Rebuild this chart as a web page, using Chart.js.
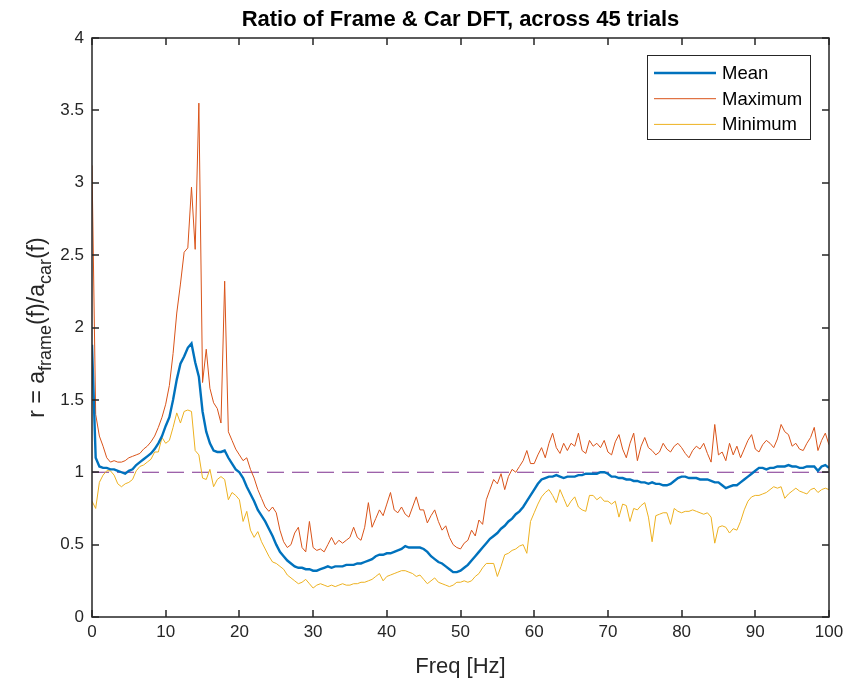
<!DOCTYPE html>
<html>
<head>
<meta charset="utf-8">
<script src="https://cdn.jsdelivr.net/npm/chart.js@4.4.0/dist/chart.umd.min.js"></script>
<style>
  html, body { margin: 0; padding: 0; background: #fff; }
  #wrap { width: 851px; height: 687px; }
</style>
</head>
<body>
<div id="wrap"><canvas id="chart" width="851" height="687"></canvas></div>
<script>
// frequency grid, 0.5 Hz steps from 0 to 100 Hz
const freqHz = Array.from({ length: 201 }, (_, i) => i * 0.5);

const meanRatio = [
  1.88, 1.10, 1.04, 1.03, 1.03, 1.02, 1.02, 1.01, 1.00, 0.99,
  1.01, 1.02, 1.05, 1.07, 1.09, 1.11, 1.13, 1.16, 1.20, 1.25,
  1.32, 1.38, 1.50, 1.64, 1.75, 1.80, 1.86, 1.89, 1.76, 1.66,
  1.42, 1.28, 1.20, 1.15, 1.14, 1.14, 1.15, 1.10, 1.06, 1.02,
  1.00, 0.96, 0.90, 0.85, 0.80, 0.74, 0.70, 0.66, 0.61, 0.56,
  0.50, 0.45, 0.42, 0.39, 0.37, 0.35, 0.34, 0.34, 0.33, 0.33,
  0.32, 0.32, 0.33, 0.34, 0.35, 0.34, 0.35, 0.35, 0.35, 0.36,
  0.36, 0.36, 0.37, 0.37, 0.38, 0.39, 0.40, 0.42, 0.43, 0.43,
  0.44, 0.44, 0.45, 0.46, 0.47, 0.49, 0.48, 0.48, 0.48, 0.48,
  0.47, 0.45, 0.42, 0.40, 0.38, 0.37, 0.35, 0.33, 0.31, 0.31,
  0.32, 0.34, 0.36, 0.39, 0.42, 0.45, 0.48, 0.51, 0.54, 0.56,
  0.58, 0.61, 0.63, 0.66, 0.68, 0.71, 0.73, 0.76, 0.80, 0.84,
  0.88, 0.92, 0.95, 0.96, 0.97, 0.97, 0.98, 0.97, 0.96, 0.97,
  0.97, 0.97, 0.98, 0.98, 0.99, 0.99, 0.99, 0.99, 1.00, 1.00,
  0.99, 0.97, 0.97, 0.96, 0.96, 0.95, 0.95, 0.94, 0.94, 0.93,
  0.93, 0.92, 0.93, 0.92, 0.92, 0.91, 0.91, 0.92, 0.94, 0.96,
  0.97, 0.97, 0.96, 0.96, 0.96, 0.95, 0.95, 0.95, 0.94, 0.93,
  0.93, 0.91, 0.89, 0.90, 0.91, 0.91, 0.93, 0.95, 0.97, 0.99,
  1.01, 1.03, 1.03, 1.02, 1.03, 1.03, 1.04, 1.04, 1.04, 1.05,
  1.04, 1.04, 1.03, 1.03, 1.04, 1.04, 1.04, 1.01, 1.04, 1.05,
  1.03
];

const maxRatio = [
  3.12, 1.40, 1.25, 1.18, 1.10, 1.07, 1.08, 1.07, 1.07, 1.08,
  1.10, 1.11, 1.12, 1.13, 1.16, 1.18, 1.21, 1.25, 1.31, 1.38,
  1.47, 1.60, 1.82, 2.10, 2.30, 2.52, 2.55, 2.97, 2.54, 3.55,
  1.62, 1.85, 1.58, 1.48, 1.44, 1.34, 2.32, 1.28, 1.22, 1.16,
  1.12, 1.08, 1.10, 1.02, 0.96, 0.88, 0.82, 0.76, 0.73, 0.76,
  0.72, 0.60, 0.52, 0.48, 0.50, 0.58, 0.62, 0.48, 0.45, 0.66,
  0.48, 0.46, 0.47, 0.45, 0.50, 0.55, 0.50, 0.53, 0.51, 0.53,
  0.55, 0.62, 0.55, 0.53, 0.62, 0.79, 0.62, 0.68, 0.74, 0.70,
  0.78, 0.86, 0.74, 0.72, 0.76, 0.71, 0.69, 0.76, 0.83, 0.74,
  0.74, 0.65, 0.70, 0.74, 0.66, 0.60, 0.63, 0.55, 0.50, 0.48,
  0.47, 0.51, 0.53, 0.60, 0.56, 0.67, 0.64, 0.81, 0.88, 0.95,
  0.92, 0.99, 0.88, 0.97, 1.02, 1.00, 1.04, 1.08, 1.15, 1.06,
  1.06, 1.12, 1.17, 1.10, 1.20, 1.27, 1.17, 1.13, 1.20, 1.15,
  1.20, 1.18, 1.27, 1.15, 1.13, 1.22, 1.18, 1.20, 1.17, 1.22,
  1.14, 1.12, 1.21, 1.26, 1.16, 1.10, 1.20, 1.27, 1.08, 1.18,
  1.24, 1.17, 1.15, 1.12, 1.14, 1.20, 1.16, 1.14, 1.18, 1.20,
  1.17, 1.13, 1.10, 1.15, 1.18, 1.16, 1.20, 1.13, 1.07, 1.33,
  1.12, 1.14, 1.08, 1.20, 1.12, 1.18, 1.10, 1.16, 1.22, 1.26,
  1.16, 1.14, 1.19, 1.22, 1.20, 1.17, 1.23, 1.33, 1.28, 1.26,
  1.18, 1.20, 1.16, 1.15, 1.20, 1.24, 1.31, 1.15, 1.22, 1.27,
  1.19
];

const minRatio = [
  0.80, 0.75, 0.93, 0.98, 1.01, 1.01, 0.98, 0.92, 0.90, 0.92,
  0.93, 0.95, 1.01, 1.04, 1.05, 1.07, 1.09, 1.14, 1.14, 1.24,
  1.20, 1.22, 1.31, 1.41, 1.34, 1.42, 1.43, 1.42, 1.15, 1.12,
  0.96, 0.95, 1.02, 0.90, 0.95, 0.97, 0.95, 0.81, 0.86, 0.84,
  0.81, 0.66, 0.73, 0.60, 0.55, 0.59, 0.52, 0.47, 0.42, 0.38,
  0.37, 0.35, 0.33, 0.29, 0.27, 0.25, 0.23, 0.24, 0.26, 0.23,
  0.20, 0.22, 0.23, 0.22, 0.21, 0.22, 0.21, 0.22, 0.23, 0.22,
  0.22, 0.23, 0.23, 0.24, 0.24, 0.25, 0.26, 0.28, 0.30, 0.25,
  0.28, 0.29, 0.30, 0.31, 0.32, 0.32, 0.31, 0.30, 0.28, 0.29,
  0.26, 0.23, 0.25, 0.27, 0.24, 0.23, 0.22, 0.21, 0.22, 0.24,
  0.24, 0.25, 0.24, 0.25, 0.28, 0.30, 0.34, 0.37, 0.37, 0.37,
  0.28, 0.35, 0.43, 0.44, 0.46, 0.47, 0.49, 0.50, 0.44, 0.66,
  0.72, 0.78, 0.83, 0.86, 0.88, 0.84, 0.79, 0.88, 0.82, 0.76,
  0.80, 0.83, 0.76, 0.74, 0.73, 0.84, 0.84, 0.81, 0.83, 0.80,
  0.80, 0.78, 0.80, 0.69, 0.78, 0.77, 0.66, 0.75, 0.74, 0.77,
  0.79, 0.69, 0.52, 0.70, 0.71, 0.72, 0.72, 0.64, 0.75, 0.73,
  0.72, 0.73, 0.73, 0.74, 0.73, 0.72, 0.71, 0.72, 0.69, 0.51,
  0.62, 0.63, 0.62, 0.58, 0.61, 0.60, 0.66, 0.74, 0.80, 0.83,
  0.84, 0.84, 0.85, 0.86, 0.88, 0.90, 0.89, 0.90, 0.82, 0.85,
  0.87, 0.89, 0.87, 0.86, 0.85, 0.88, 0.89, 0.86, 0.88, 0.89,
  0.88
];

// reference line r = 1
const unityX = [0, 100];
const unityY = [1, 1];

const axisColor = '#262626';
const fontFamily = '"Liberation Sans", Arial, Helvetica, sans-serif';
const tickLen = 7;

function toPoints(xs, ys) {
    return xs.map((f, i) => ({ x: f, y: ys[i] }));
}

// draws text pieces side by side, some of them as subscripts
function drawRich(ctx, parts, size) {
    const subSize = Math.round(size * 0.78);
    let total = 0;
    parts.forEach(p => {
        ctx.font = (p.sub ? subSize : size) + 'px ' + fontFamily;
        p.w = ctx.measureText(p.text).width;
        total += p.w;
    });
    let x = -total / 2;
    parts.forEach(p => {
        ctx.font = (p.sub ? subSize : size) + 'px ' + fontFamily;
        ctx.fillText(p.text, x, p.sub ? size * 0.3 : 0);
        x += p.w;
    });
}

const matlabFrame = {
    id: 'matlabFrame',
    afterDraw(chart) {
        const ctx = chart.ctx;
        const a = chart.chartArea;
        const xs = chart.scales.x;
        const ys = chart.scales.y;
        ctx.save();

        // box and inward ticks
        ctx.strokeStyle = axisColor;
        ctx.lineWidth = 1.5;
        ctx.beginPath();
        xs.ticks.forEach(t => {
            const px = Math.round(xs.getPixelForValue(t.value));
            ctx.moveTo(px, a.bottom); ctx.lineTo(px, a.bottom - tickLen);
            ctx.moveTo(px, a.top); ctx.lineTo(px, a.top + tickLen);
        });
        ys.ticks.forEach(t => {
            const py = Math.round(ys.getPixelForValue(t.value));
            ctx.moveTo(a.left, py); ctx.lineTo(a.left + tickLen, py);
            ctx.moveTo(a.right, py); ctx.lineTo(a.right - tickLen, py);
        });
        ctx.stroke();
        ctx.strokeRect(a.left, a.top, a.right - a.left, a.bottom - a.top);

        // tick labels
        ctx.fillStyle = axisColor;
        ctx.font = '17px ' + fontFamily;
        ctx.textAlign = 'center';
        ctx.textBaseline = 'top';
        xs.ticks.forEach(t => {
            ctx.fillText(String(t.value), xs.getPixelForValue(t.value), a.bottom + 7);
        });
        ctx.textAlign = 'right';
        ctx.textBaseline = 'middle';
        ys.ticks.forEach(t => {
            ctx.fillText(String(t.value), a.left - 8, ys.getPixelForValue(t.value));
        });

        // title and axis labels
        ctx.fillStyle = '#000';
        ctx.textAlign = 'center';
        ctx.textBaseline = 'alphabetic';
        ctx.font = 'bold 22px ' + fontFamily;
        ctx.fillText('Ratio of Frame & Car DFT, across 45 trials', (a.left + a.right) / 2, 26);
        ctx.fillStyle = axisColor;
        ctx.font = '22px ' + fontFamily;
        ctx.fillText('Freq [Hz]', (a.left + a.right) / 2, 673);

        ctx.save();
        ctx.translate(44, (a.top + a.bottom) / 2);
        ctx.rotate(-Math.PI / 2);
        ctx.textAlign = 'left';
        drawRich(ctx, [
            { text: 'r = a' }, { text: 'frame', sub: true },
            { text: '(f)/a' }, { text: 'car', sub: true },
            { text: '(f)' }
        ], 23);
        ctx.restore();

        // legend box
        const lx = 647, ly = 55, lw = 163, lh = 84;
        ctx.fillStyle = '#fff';
        ctx.fillRect(lx, ly, lw, lh);
        ctx.strokeStyle = axisColor;
        ctx.lineWidth = 1;
        ctx.strokeRect(lx + 0.5, ly + 0.5, lw, lh);
        ctx.font = '18.5px ' + fontFamily;
        ctx.textAlign = 'left';
        ctx.textBaseline = 'middle';
        chart.data.datasets.filter(d => d.label).forEach((d, i) => {
            const ry = 73 + i * 25.7;
            ctx.strokeStyle = d.borderColor;
            ctx.lineWidth = d.borderWidth;
            ctx.beginPath();
            ctx.moveTo(654, ry); ctx.lineTo(716, ry);
            ctx.stroke();
            ctx.fillStyle = '#000';
            ctx.fillText(d.label, 722, ry + 1);
        });
        ctx.restore();
    }
};

const ctx = document.getElementById('chart').getContext('2d');
new Chart(ctx, {
    type: 'line',
    data: {
        datasets: [
            { label: 'Mean', data: toPoints(freqHz, meanRatio), borderColor: '#0072BD', borderWidth: 2.4 },
            { label: 'Maximum', data: toPoints(freqHz, maxRatio), borderColor: '#D95319', borderWidth: 1 },
            { label: 'Minimum', data: toPoints(freqHz, minRatio), borderColor: '#EDB120', borderWidth: 1 },
            { label: '', data: toPoints(unityX, unityY), borderColor: '#7E2F8E', borderWidth: 1, borderDash: [17, 8] }
        ]
    },
    options: {
        responsive: false,
        animation: false,
        devicePixelRatio: 1,
        layout: { padding: { left: 92, right: 22, top: 38, bottom: 70 } },
        elements: { point: { radius: 0 }, line: { tension: 0, fill: false } },
        scales: {
            x: {
                type: 'linear', min: 0, max: 100,
                ticks: { display: false, stepSize: 10 },
                grid: { display: false, drawTicks: false },
                border: { display: false }
            },
            y: {
                type: 'linear', min: 0, max: 4,
                ticks: { display: false, stepSize: 0.5 },
                grid: { display: false, drawTicks: false },
                border: { display: false }
            }
        },
        plugins: {
            legend: { display: false },
            title: { display: false },
            tooltip: { enabled: false }
        }
    },
    plugins: [matlabFrame]
});
</script>
</body>
</html>
